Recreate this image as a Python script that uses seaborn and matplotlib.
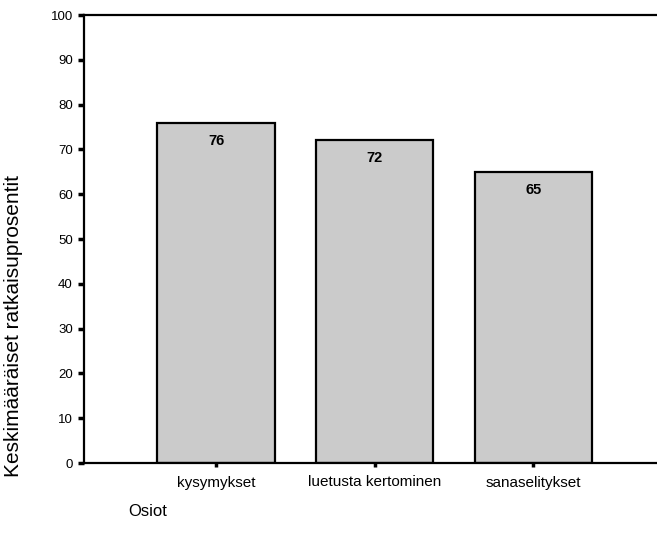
import matplotlib
matplotlib.use("Agg")
import matplotlib.pyplot as plt
import seaborn as sns
import pandas as pd

categories = ["kysymykset", "luetusta kertominen", "sanaselitykset"]
values = [76, 72, 65]
y_ticks = [0, 10, 20, 30, 40, 50, 60, 70, 80, 90, 100]

sns.set_style("white")
plt.rcParams["font.family"] = ["Liberation Sans", "DejaVu Sans"]
plt.rcParams["text.color"] = "black"
plt.rcParams["xtick.color"] = "black"
plt.rcParams["ytick.color"] = "black"

df = pd.DataFrame({"osio": categories, "arvo": values})

fig = plt.figure(figsize=(6.57, 5.39), dpi=100)
ax = fig.add_axes([84 / 657, 76 / 539, 1 - 84 / 657, 448 / 539])

sns.barplot(data=df, x="osio", y="arvo", color="#cbcbcb", saturation=1,
            width=0.74, edgecolor="black", linewidth=1.6, ax=ax)

ax.set_ylim(0, 100)
ax.set_xlim(-0.833, 2.78)
ax.set_yticks(y_ticks)
ax.set_yticklabels([str(t) for t in y_ticks], fontsize=9.5)
ax.set_xticks(range(len(categories)))
ax.set_xticklabels(categories, fontsize=11)
ax.set_xlabel("")
ax.set_ylabel("")

for side in ["left", "top", "bottom"]:
    ax.spines[side].set_visible(True)
    ax.spines[side].set_linewidth(1.6)
    ax.spines[side].set_color("black")
ax.spines["right"].set_visible(False)

ax.tick_params(axis="y", direction="out", length=4, width=2.5, pad=4, left=True)
ax.tick_params(axis="x", direction="out", length=3, width=2.5, pad=6, bottom=True)

for container in ax.containers:
    ax.bar_label(container, labels=[str(v) for v in values], padding=-18,
                 fontsize=10.5, fontweight="bold", color="black")

fig.text(14 / 657, 1 - 326 / 539, "Keskimääräiset ratkaisuprosentit",
         rotation=90, ha="center", va="center", fontsize=15)
fig.text(128 / 657, 1 - 512 / 539, "Osiot", ha="left", va="center", fontsize=12)

fig.savefig("out.png", dpi=100)
